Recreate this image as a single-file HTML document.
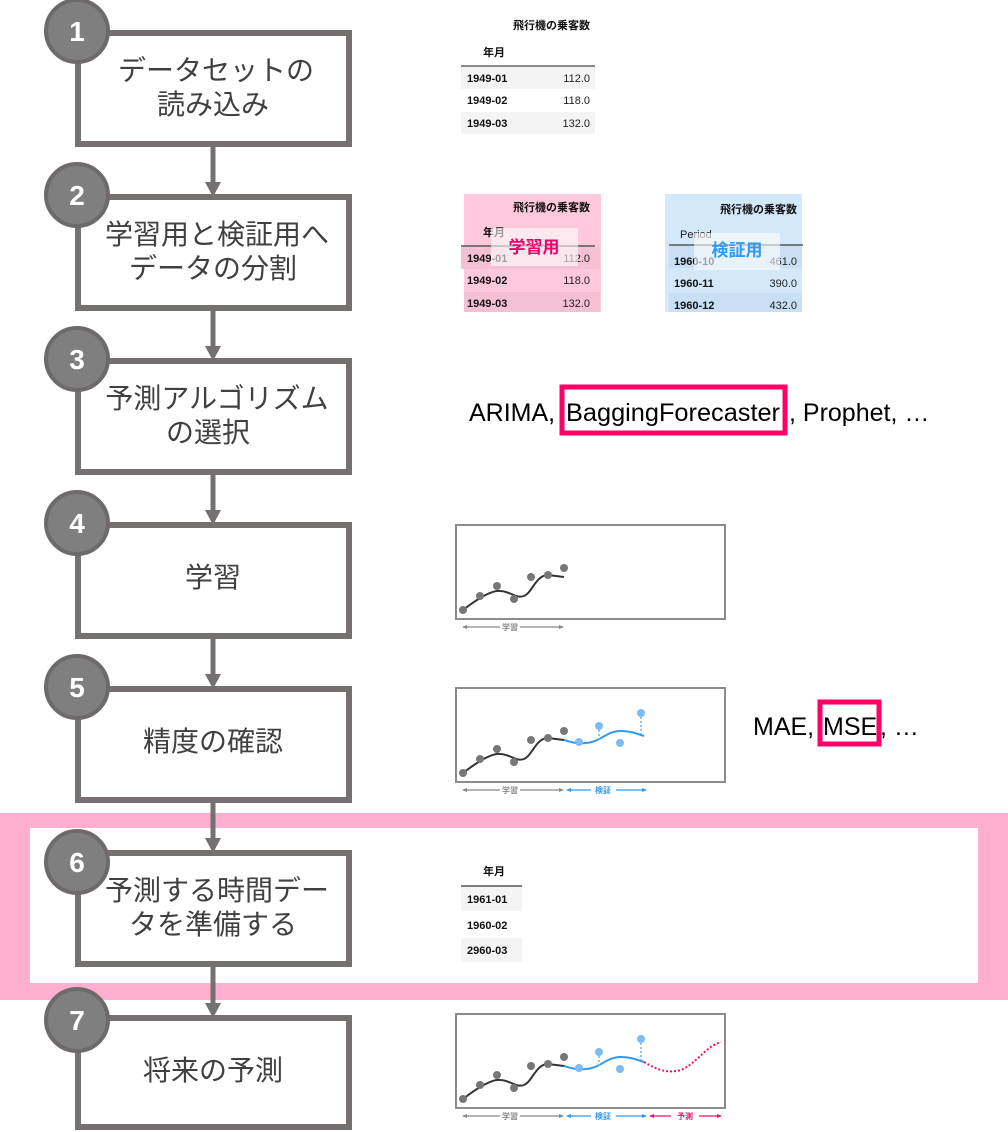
<!DOCTYPE html>
<html><head><meta charset="utf-8"><style>
html,body{margin:0;padding:0;background:#fff;}
svg{display:block;}
.bx{font-family:"Liberation Sans","Noto Sans CJK JP",sans-serif;font-size:28px;fill:#404040;}
.num{font-family:"Liberation Sans",sans-serif;font-size:28px;font-weight:bold;fill:#fff;}
.t{font-family:"Liberation Sans","Noto Sans CJK JP",sans-serif;font-size:11px;font-weight:bold;fill:#111;}
.tn{font-family:"Liberation Sans",sans-serif;font-size:11px;fill:#222;}
.big{font-family:"Liberation Sans","Noto Sans CJK JP",sans-serif;font-size:25px;fill:#000;}
.lb{font-family:"Liberation Sans","Noto Sans CJK JP",sans-serif;font-size:8px;font-weight:bold;}
</style></head><body>
<svg width="1008" height="1132" viewBox="0 0 1008 1132" xmlns="http://www.w3.org/2000/svg">
<defs>
<g id="chartbase">
  <rect x="0" y="0" width="269" height="94" fill="#fff" stroke="#8c8c8c" stroke-width="2"/>
  <path d="M7,85 C20,75 35,65 44,66 C54,66 60,74 68,71 C76,68 80,50 92,50 L108,52" fill="none" stroke="#333" stroke-width="2"/>
  <g fill="#777"><circle cx="7" cy="85" r="4"/><circle cx="24" cy="71" r="4"/><circle cx="41" cy="61" r="4"/><circle cx="58" cy="74" r="4"/><circle cx="75" cy="52" r="4"/><circle cx="92" cy="50" r="4"/><circle cx="108" cy="43" r="4"/></g>
  <g stroke="#888" stroke-width="1.2" fill="#888">
    <line x1="7" y1="102" x2="44" y2="102"/><line x1="64" y1="102" x2="107" y2="102"/>
    <path d="M6,102 l5,-2 v4z M108,102 l-5,-2 v4z" stroke="none"/>
  </g>
  <text class="lb" x="54" y="105" text-anchor="middle" fill="#888">学習</text>
</g>
<g id="blue">
  <path d="M108,52 C115,54 120,56 130,55 C145,54 150,43 165,43 C175,43 182,46 188,48" fill="none" stroke="#3399ee" stroke-width="2"/>
  <g stroke="#6fb4f0" stroke-width="1.5" stroke-dasharray="2,2"><line x1="143" y1="38" x2="143" y2="53"/><line x1="185" y1="25" x2="185" y2="46"/></g>
  <g fill="#7dbcf3"><circle cx="123" cy="54" r="4"/><circle cx="143" cy="38" r="4"/><circle cx="164" cy="55" r="4"/><circle cx="185" cy="25" r="4"/></g>
  <g stroke="#3399ee" stroke-width="1.2" fill="#3399ee">
    <line x1="111" y1="102" x2="135" y2="102"/><line x1="160" y1="102" x2="190" y2="102"/>
    <path d="M110,102 l5,-2 v4z M191,102 l-5,-2 v4z" stroke="none"/>
  </g>
  <text class="lb" x="147" y="105" text-anchor="middle" fill="#3399ee">検証</text>
</g>
</defs>

<rect x="0" y="813" width="1008" height="187" fill="#ffb0d0"/>
<rect x="30" y="828" width="948" height="155" fill="#fff"/>

<g stroke="#767171" stroke-width="5" fill="#767171">
  <line x1="213" y1="147" x2="213" y2="184"/><line x1="213" y1="311" x2="213" y2="348"/>
  <line x1="213" y1="475" x2="213" y2="512"/><line x1="213" y1="639" x2="213" y2="676"/>
  <line x1="213" y1="803" x2="213" y2="840"/><line x1="213" y1="967" x2="213" y2="1005"/>
</g>
<g fill="#767171">
  <path d="M205,182 h16 l-8,15z"/><path d="M205,346 h16 l-8,15z"/><path d="M205,510 h16 l-8,15z"/>
  <path d="M205,674 h16 l-8,15z"/><path d="M205,838 h16 l-8,15z"/><path d="M205,1003 h16 l-8,15z"/>
</g>

<g fill="#fff" stroke="#767171" stroke-width="6">
  <rect x="78" y="33" width="271" height="111"/>
  <rect x="78" y="197" width="271" height="111"/>
  <rect x="78" y="361" width="271" height="111"/>
  <rect x="78" y="525" width="271" height="111"/>
  <rect x="78" y="689" width="271" height="111"/>
  <rect x="78" y="853" width="271" height="111"/>
  <rect x="78" y="1018" width="271" height="109"/>
</g>
<g class="bx" text-anchor="middle">
  <text x="216" y="80">データセットの</text><text x="213" y="114">読み込み</text>
  <text x="217" y="244">学習用と検証用へ</text><text x="213" y="278">データの分割</text>
  <text x="217" y="408">予測アルゴリズム</text><text x="208" y="442">の選択</text>
  <text x="213" y="587">学習</text>
  <text x="213" y="751">精度の確認</text>
  <text x="217" y="900">予測する時間デー</text><text x="213" y="934">タを準備する</text>
  <text x="213" y="1080">将来の予測</text>
</g>
<g fill="#7f7f7f" stroke="#6e6a6a" stroke-width="4">
  <circle cx="77" cy="31" r="31"/><circle cx="77" cy="195" r="31"/><circle cx="77" cy="359" r="31"/>
  <circle cx="77" cy="523" r="31"/><circle cx="77" cy="687" r="31"/><circle cx="77" cy="862" r="31"/>
  <circle cx="77" cy="1020" r="31"/>
</g>
<g class="num" text-anchor="middle">
  <text x="77" y="41">1</text><text x="77" y="205">2</text><text x="77" y="369">3</text>
  <text x="77" y="533">4</text><text x="77" y="697">5</text><text x="77" y="872">6</text><text x="77" y="1030">7</text>
</g>

<text class="t" x="590" y="29" text-anchor="end">飛行機の乗客数</text>
<text class="t" x="494" y="56" text-anchor="middle">年月</text>
<line x1="461" y1="66" x2="595" y2="66" stroke="#666" stroke-width="1.5"/>
<rect x="461" y="67" width="134" height="22" fill="#f4f4f4"/>
<rect x="461" y="112" width="134" height="22" fill="#f4f4f4"/>
<text class="t" x="467" y="82">1949-01</text><text class="tn" x="590" y="82" text-anchor="end">112.0</text>
<text class="t" x="467" y="104">1949-02</text><text class="tn" x="590" y="104" text-anchor="end">118.0</text>
<text class="t" x="467" y="127">1949-03</text><text class="tn" x="590" y="127" text-anchor="end">132.0</text>

<rect x="464" y="194" width="137" height="118" fill="#ffc8dc"/>
<text class="t" x="590" y="211" text-anchor="end">飛行機の乗客数</text>
<text class="t" x="494" y="236" text-anchor="middle">年月</text>
<line x1="461" y1="246" x2="595" y2="246" stroke="#555" stroke-width="1.5"/>
<rect x="461" y="247" width="139" height="22" fill="#f5c0d3"/>
<rect x="464" y="292" width="136" height="20" fill="#f5c0d3"/>
<text class="t" x="467" y="262">1949-01</text><text class="tn" x="590" y="262" text-anchor="end">112.0</text>
<text class="t" x="467" y="284">1949-02</text><text class="tn" x="590" y="284" text-anchor="end">118.0</text>
<text class="t" x="467" y="307">1949-03</text><text class="tn" x="590" y="307" text-anchor="end">132.0</text>
<rect x="491" y="228" width="87" height="38" fill="#fff" fill-opacity="0.6"/>
<text x="534" y="253" text-anchor="middle" font-family="'Liberation Sans','Noto Sans CJK JP',sans-serif" font-size="17" font-weight="bold" fill="#f0006a">学習用</text>

<rect x="665" y="194" width="137" height="118" fill="#d4e8fb"/>
<text class="t" x="797" y="213" text-anchor="end">飛行機の乗客数</text>
<text class="tn" x="680" y="238">Period</text>
<line x1="669" y1="245" x2="803" y2="245" stroke="#555" stroke-width="1.5"/>
<rect x="669" y="246" width="133" height="22" fill="#c8dff5"/>
<rect x="669" y="293" width="133" height="19" fill="#c8dff5"/>
<text class="t" x="674" y="265">1960-10</text><text class="tn" x="797" y="265" text-anchor="end">461.0</text>
<text class="t" x="674" y="287">1960-11</text><text class="tn" x="797" y="287" text-anchor="end">390.0</text>
<text class="t" x="674" y="309">1960-12</text><text class="tn" x="797" y="309" text-anchor="end">432.0</text>
<rect x="694" y="233" width="86" height="37" fill="#fff" fill-opacity="0.6"/>
<text x="737" y="256" text-anchor="middle" font-family="'Liberation Sans','Noto Sans CJK JP',sans-serif" font-size="17" font-weight="bold" fill="#3399ee">検証用</text>

<text class="big" x="469" y="421">ARIMA,</text>
<text class="big" x="566" y="421" textLength="214" lengthAdjust="spacingAndGlyphs">BaggingForecaster</text>
<text class="big" x="789" y="421">, Prophet, …</text>
<rect x="562" y="387" width="223" height="46" fill="none" stroke="#ff0066" stroke-width="5"/>

<use href="#chartbase" transform="translate(456,525)"/>
<use href="#chartbase" transform="translate(456,688)"/>
<use href="#blue" transform="translate(456,688)"/>

<text class="big" x="753" y="735">MAE,</text>
<text class="big" x="823" y="735">MSE</text>
<text class="big" x="880" y="735">, …</text>
<rect x="820" y="702" width="59" height="42" fill="none" stroke="#ff0066" stroke-width="5"/>

<text class="t" x="494" y="875" text-anchor="middle">年月</text>
<line x1="461" y1="886" x2="522" y2="886" stroke="#555" stroke-width="1.5"/>
<rect x="461" y="887" width="61" height="24" fill="#f4f4f4"/>
<rect x="461" y="938" width="61" height="24" fill="#f4f4f4"/>
<text class="t" x="467" y="903">1961-01</text>
<text class="t" x="467" y="929">1960-02</text>
<text class="t" x="467" y="954">2960-03</text>

<g transform="translate(456,1014)">
  <use href="#chartbase"/>
  <use href="#blue"/>
  <path d="M188,48 C200,55 210,60 225,56 C240,50 250,32 265,28" fill="none" stroke="#ee1166" stroke-width="2" stroke-dasharray="2,2"/>
  <g stroke="#ee1166" stroke-width="1.2" fill="#ee1166">
    <line x1="194" y1="102" x2="215" y2="102"/><line x1="243" y1="102" x2="265" y2="102"/>
    <path d="M193,102 l5,-2 v4z M266,102 l-5,-2 v4z" stroke="none"/>
  </g>
  <text class="lb" x="229" y="105" text-anchor="middle" fill="#ee1166">予測</text>
</g>
</svg>
</body></html>
